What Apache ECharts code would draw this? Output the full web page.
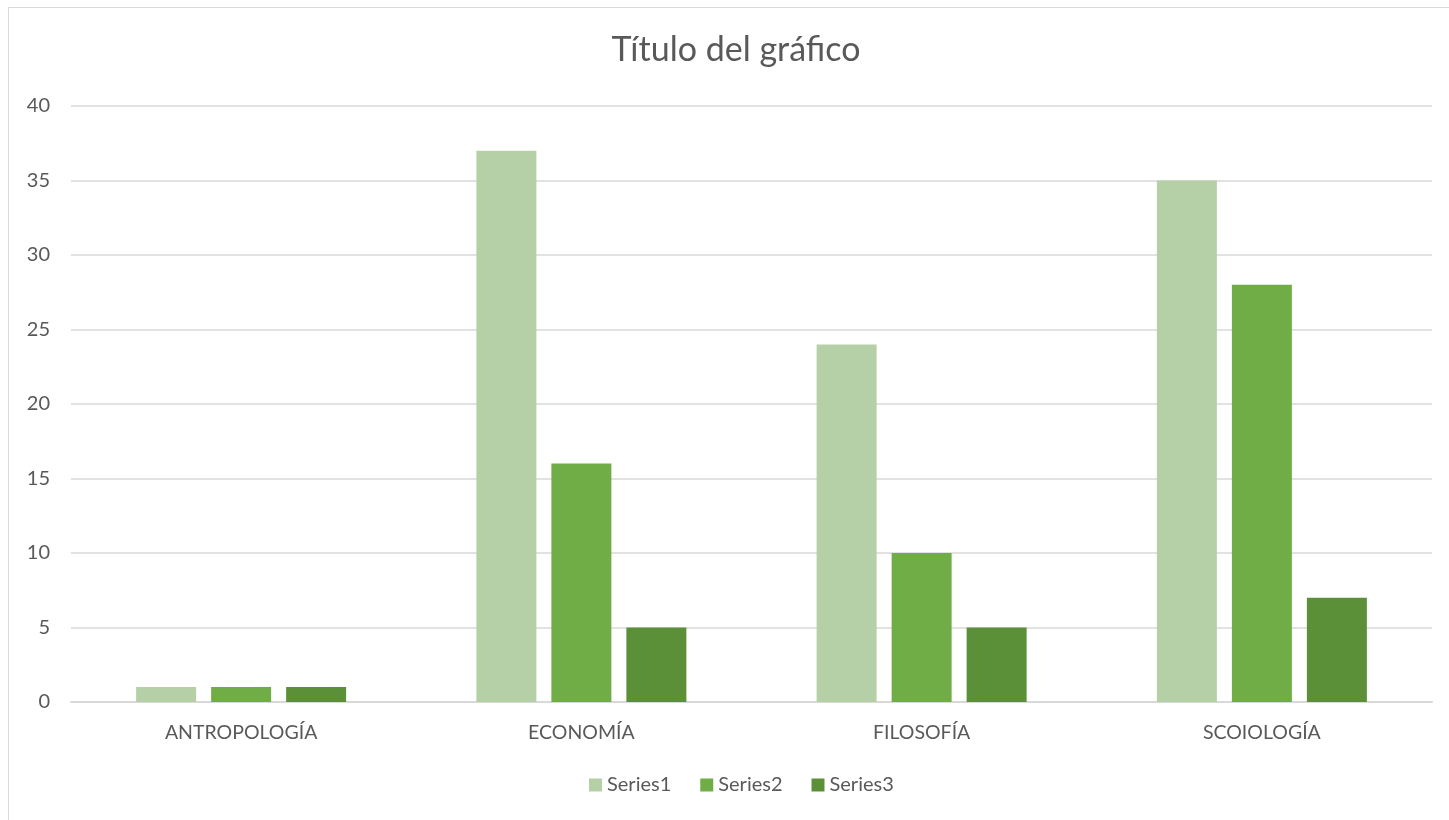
<!DOCTYPE html>
<html><head><meta charset="utf-8">
<script src="https://cdn.jsdelivr.net/npm/echarts@6/dist/echarts.min.js"></script>
<style>html,body{margin:0;padding:0;background:#fff;}#c{width:1449px;height:820px;}
#b{position:absolute;left:8px;top:7px;width:1460px;height:830px;border:1px solid #d9d9d9;box-sizing:border-box;pointer-events:none;}</style>
</head><body><div id="c"></div><div id="b"></div>
<script>
const categories = ['ANTROPOLOGÍA', 'ECONOMÍA', 'FILOSOFÍA', 'SCOIOLOGÍA'];
const series1 = [1, 37, 24, 35];
const series2 = [1, 16, 10, 28];
const series3 = [1, 5, 5, 7];
const seriesNames = ['Series1', 'Series2', 'Series3'];
const colors = ['#b5cfa7', '#70ad47', '#5b9039'];
const font = 'Lato, "Open Sans", sans-serif';
const chart = echarts.init(document.getElementById('c'));
chart.setOption({
  animation: false,
  title: { text: 'Título del gráfico', left: 731, textAlign: 'center', top: 28,
    textStyle: { fontFamily: font, fontSize: 34, fontWeight: 'normal', color: '#595959' } },
  legend: { bottom: 20, left: 584, itemWidth: 13, itemHeight: 13, itemGap: 29, icon: 'rect',
    textStyle: { fontFamily: font, fontSize: 20, color: '#595959' }, data: seriesNames },
  grid: { left: 71, right: 17, top: 106, bottom: 118 },
  xAxis: { type: 'category', data: categories,
    axisLine: { lineStyle: { color: '#d9d9d9', width: 2 } }, axisTick: { show: false },
    axisLabel: { margin: 21, fontFamily: font, fontSize: 19.5, color: '#595959' } },
  yAxis: { type: 'value', min: 0, max: 40, interval: 5,
    axisLine: { show: false }, axisTick: { show: false },
    splitLine: { lineStyle: { color: '#d9d9d9', width: 1.5 } },
    axisLabel: { margin: 21, fontFamily: font, fontSize: 20, color: '#595959' } },
  series: [series1, series2, series3].map((d, i) => ({
    name: seriesNames[i], type: 'bar', data: d, barWidth: 60, barGap: '25%',
    itemStyle: { color: colors[i] }
  }))
});
</script></body></html>
